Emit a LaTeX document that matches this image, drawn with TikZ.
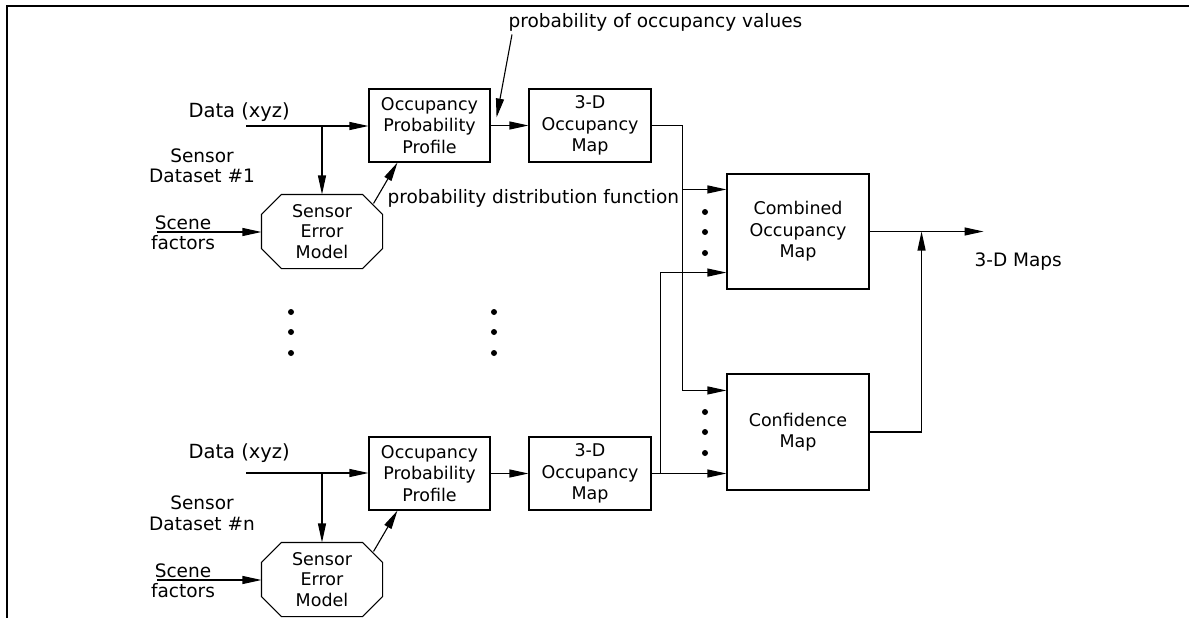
\documentclass[tikz,border=0pt]{standalone}
\usepackage{fontspec}
\setmainfont{DejaVu Sans}
\usetikzlibrary{arrows.meta,calc}
\begin{document}
\begin{tikzpicture}[x=1pt,y=-1pt,
  line width=1.1pt,
  arr/.style={-{Triangle[length=19pt,width=8pt]}},
  box/.style={draw,rectangle,inner sep=0pt,align=center,font=\fontsize{17.5}{21.5}\selectfont},
  octo/.style={rectangle,inner sep=0pt,align=center,minimum width=120pt,minimum height=73pt,font=\fontsize{17.5}{20.5}\selectfont},
  lbl/.style={inner sep=0pt,font=\fontsize{18.5}{20.5}\selectfont},
  dlbl/.style={inner sep=0pt,font=\fontsize{19.5}{21}\selectfont}]
\useasboundingbox (0,0) rectangle (1189,618);
\draw[line width=2.2pt] (7,618) -- (7,6) -- (1189,6);

% boxes
\node[box,minimum width=121pt,minimum height=73pt] (opp1) at (429.5,125.5) {Occupancy\\Probability\\Profile};
\node[box,minimum width=122pt,minimum height=73pt] (map1) at (590,125.5) {3-D\\Occupancy\\Map};
\node[box,minimum width=121pt,minimum height=73pt] (opp2) at (429.5,473.5) {Occupancy\\Probability\\Profile};
\node[box,minimum width=122pt,minimum height=73pt] (map2) at (590,473.5) {3-D\\Occupancy\\Map};
\node[box,minimum width=142pt,minimum height=115pt] (comb) at (798,231.5) {Combined\\Occupancy\\Map};
\node[box,minimum width=142pt,minimum height=116pt] (conf) at (798,432) {Confidence\\Map};

\node[octo] (sem1) at (322,231.5) {Sensor\\Error\\Model};
\node[octo] (sem2) at (322,579.5) {Sensor\\Error\\Model};
\foreach \s in {sem1,sem2}{
  \draw ([xshift=20pt]\s.north west) -- ([xshift=-20pt]\s.north east)
     -- ([yshift=-20pt]\s.north east) -- ([yshift=20pt]\s.south east)
     -- ([xshift=-20pt]\s.south east) -- ([xshift=20pt]\s.south west)
     -- ([yshift=20pt]\s.south west) -- ([yshift=-20pt]\s.north west) -- cycle;
}

% labels
\node[dlbl,anchor=west] (data1) at (188,112) {Data (xyz)};
\node[dlbl,anchor=west] (data2) at (188,453) {Data (xyz)};
\node[lbl,align=center] (sens1) at (202,166) {Sensor\\Dataset \#1};
\node[lbl,align=center] (sens2) at (202,513.5) {Sensor\\Dataset \#n};
\node[lbl,align=center] (scn1) at (183,233) {Scene\\factors};
\node[lbl,align=center] (scn2) at (183,581) {Scene\\factors};
\node[lbl,anchor=west] (pocc) at (508,22) {probability of occupancy values};
\node[lbl,anchor=west] (pdf) at (387,198) {probability distribution function};
\node[lbl,anchor=west] (maps) at (974,262) {3-D Maps};

% coordinates
\coordinate (d1) at (246,126);
\coordinate (d2) at (246,473);
\coordinate (s1) at (157,232);
\coordinate (s2) at (157,580);
\coordinate (cin1) at ($(comb.north west)+(0,16)$);
\coordinate (cin2) at ($(comb.south west)+(0,-17)$);
\coordinate (fin1) at ($(conf.north west)+(0,17)$);
\coordinate (fin2) at ($(conf.south west)+(0,-17)$);
\coordinate (jn) at ($(comb.east)+(52,0)$);
\coordinate (mout) at ($(comb.east)+(114,0)$);

% connectors, top row
\draw[arr] (d1) -- (d1 -| opp1.west);
\draw[arr] (d1 -| sem1.north) -- (sem1.north);
\draw[arr] (s1) -- (s1 -| sem1.west);
\draw[arr] ($(sem1.north east)+(-9,9)$) -- ($(opp1.south west)+(29,0)$);
\draw[arr] (opp1.east) -- (map1.west);
\draw[arr] ($(pocc.south west)+(4,3)$) -- ($(opp1.east)+(6,-8)$);
\draw[arr] (map1.east) -- ++(31,0) coordinate (b1) |- (fin1);
\draw[arr] (b1 |- cin1) -- (cin1);

% connectors, bottom row
\draw[arr] (d2) -- (d2 -| opp2.west);
\draw[arr] (d2 -| sem2.north) -- (sem2.north);
\draw[arr] (s2) -- (s2 -| sem2.west);
\draw[arr] ($(sem2.north east)+(-9,9)$) -- ($(opp2.south west)+(29,0)$);
\draw[arr] (opp2.east) -- (map2.west);
\draw[arr] (map2.east) -- (fin2 |- map2.east);
\draw[arr] ($(map2.east)+(9,0)$) |- (cin2);

% outputs
\draw[arr] (comb.east) -- (mout);
\draw[arr] (conf.east) -| (jn);

% dots
\foreach \x/\y in {291/312,291/332,291/353,494/312,494/332,494/353,705/212,705/232,705/253,705/412,705/432,705/453}
  \fill (\x,\y) circle (3pt);
\end{tikzpicture}
\end{document}
